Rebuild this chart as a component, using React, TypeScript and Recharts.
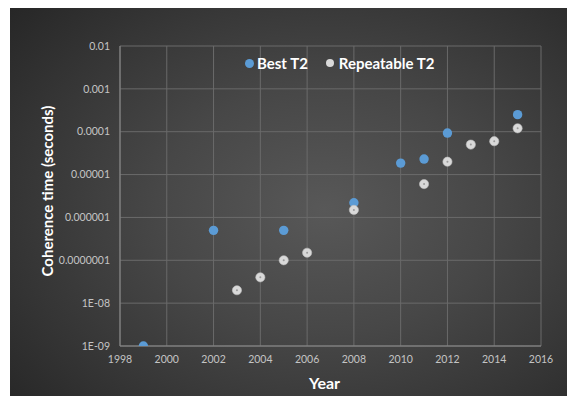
import React from 'react';
import { ScatterChart, Scatter, XAxis, YAxis, CartesianGrid, Label } from 'recharts';

const bestYears = [1999, 2002, 2005, 2008, 2010, 2011, 2012, 2015];
const bestValues = [1e-9, 5e-7, 5e-7, 2.2e-6, 1.85e-5, 2.3e-5, 9.3e-5, 2.5e-4];
const repYears = [2003, 2004, 2005, 2006, 2008, 2011, 2012, 2013, 2014, 2015];
const repValues = [2e-8, 4e-8, 1e-7, 1.5e-7, 1.5e-6, 6e-6, 2e-5, 5e-5, 6e-5, 1.2e-4];
const xTicks = [1998, 2000, 2002, 2004, 2006, 2008, 2010, 2012, 2014, 2016];
const yTicks = [1e-9, 1e-8, 1e-7, 1e-6, 1e-5, 1e-4, 1e-3, 1e-2];
const yTickLabels = ['1E-09', '1E-08', '0.0000001', '0.000001', '0.00001', '0.0001', '0.001', '0.01'];
const seriesNames = ['Best T2', 'Repeatable T2'];

const bestData = bestYears.map((x, i) => ({ x, y: bestValues[i] }));
const repData = repYears.map((x, i) => ({ x, y: repValues[i] }));

const BLUE = '#5b9bd5';
const GRAY = '#d9d9d9';
const FONT = 'Lato, "Open Sans", sans-serif';

const BlueDot = (props: any) => {
  const { cx, cy } = props;
  if (cx == null || cy == null) return null;
  return <circle cx={cx} cy={cy} r={4.7} fill={BLUE} />;
};

const GrayDot = (props: any) => {
  const { cx, cy } = props;
  if (cx == null || cy == null) return null;
  return (
    <g>
      <circle cx={cx} cy={cy} r={4.6} fill={GRAY} stroke="#bdbdbd" strokeWidth={0.6} />
      <circle cx={cx} cy={cy} r={1} fill="#9a9a9a" />
    </g>
  );
};

const LegendBox = () => (
  <div
    style={{
      position: 'absolute',
      top: 45,
      left: 235,
      display: 'flex',
      alignItems: 'center',
      fontFamily: FONT,
      fontWeight: 700,
      fontSize: 15,
      lineHeight: '20px',
      color: '#ffffff',
      pointerEvents: 'none',
    }}
  >
    <span style={{ display: 'inline-block', width: 9, height: 9, borderRadius: '50%', background: BLUE, marginRight: 3 }} />
    <span>{seriesNames[0]}</span>
    <span style={{ display: 'inline-block', width: 8, height: 8, borderRadius: '50%', background: GRAY, marginLeft: 18, marginRight: 5 }} />
    <span>{seriesNames[1]}</span>
  </div>
);

export default function App() {
  return (
    <div
      style={{
        position: 'relative',
        marginLeft: 2,
        width: 562,
        height: 388,
        background: 'radial-gradient(ellipse 75% 80% at 56% 52%, #585858 0%, #474747 40%, #343434 75%, #262626 100%)',
      }}
    >
      <ScatterChart width={562} height={388} margin={{ top: 38, right: 31, bottom: 20, left: 50 }}>
        <CartesianGrid stroke="#6a6a6a" strokeWidth={1} />
        <XAxis
          type="number"
          dataKey="x"
          domain={[1998, 2016]}
          ticks={xTicks}
          tickLine={false}
          tickSize={0}
          tickMargin={10}
          height={30}
          stroke="#8a8a8a"
          tick={{ fill: '#c4c4c4', fontSize: 10.5, fontFamily: FONT }}
          allowDataOverflow
        >
          <Label
            value="Year"
            position="insideBottom"
            offset={-13}
            dx={-6}
            style={{ fill: '#ffffff', fontSize: 16, fontWeight: 700, fontFamily: FONT }}
          />
        </XAxis>
        <YAxis
          type="number"
          dataKey="y"
          scale="log"
          domain={[1e-9, 1e-2]}
          ticks={yTicks}
          tickFormatter={(v: number) => yTickLabels[yTicks.findIndex((t) => Math.abs(Math.log10(t) - Math.log10(v)) < 0.01)] ?? ''}
          tickLine={false}
          tickSize={0}
          tickMargin={10}
          width={60}
          stroke="#8a8a8a"
          tick={{ fill: '#c4c4c4', fontSize: 10.5, fontFamily: FONT }}
          allowDataOverflow
        >
          <Label
            value="Coherence time (seconds)"
            angle={-90}
            position="insideLeft"
            offset={-12}
            dy={-5}
            style={{ textAnchor: 'middle', fill: '#ffffff', fontSize: 15, fontWeight: 700, fontFamily: FONT }}
          />
        </YAxis>
        <Scatter name={seriesNames[0]} data={bestData} fill={BLUE} shape={<BlueDot />} isAnimationActive={false} />
        <Scatter name={seriesNames[1]} data={repData} fill={GRAY} shape={<GrayDot />} isAnimationActive={false} />
      </ScatterChart>
      <LegendBox />
    </div>
  );
}
